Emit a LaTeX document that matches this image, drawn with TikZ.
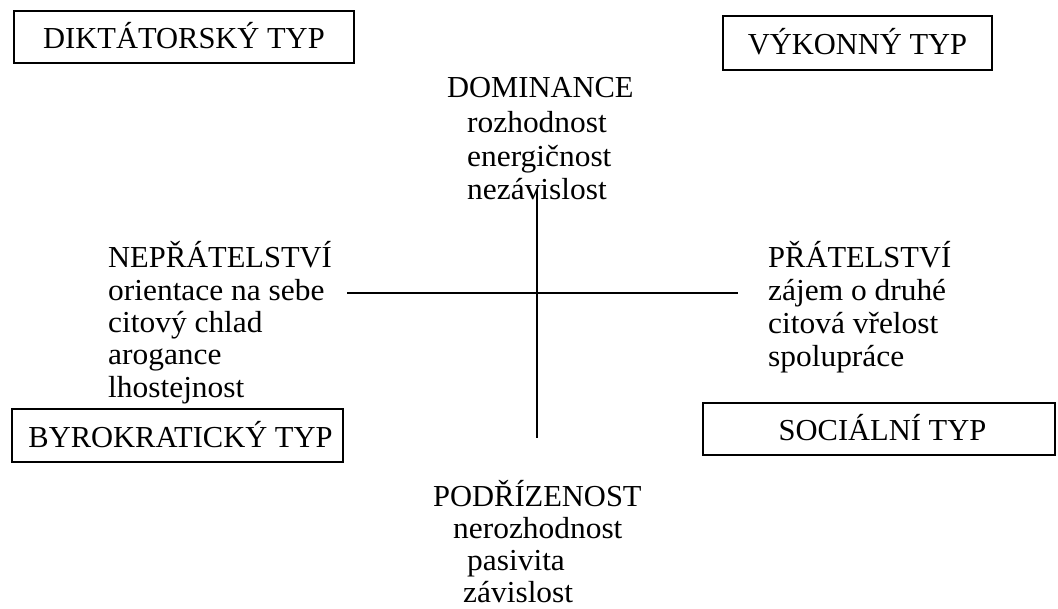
\documentclass[tikz,border=0pt]{standalone}
\usepackage{fontspec}
\setmainfont{Liberation Serif}
\newfontfamily\lowfont{Liberation Serif}[FakeStretch=1.03]
\begin{document}
\begin{tikzpicture}[x=1pt,y=-1pt,
  typbox/.style={draw,line width=1.6pt,inner sep=0pt,font=\fontsize{30.5}{35}\selectfont,text height=24pt,text depth=0pt},
  lbl/.style={anchor=base west,inner sep=0pt,font=\fontsize{30.5}{35}\selectfont},
  low/.style={lbl,font=\fontsize{30.5}{35}\lowfont},
  axis/.style={line width=1.8pt}]
\useasboundingbox (0,0) rectangle (1058,609);
% type boxes
\node[typbox,minimum width=340pt,minimum height=52pt] (dikt) at (184,37) {DIKTÁTORSKÝ TYP};
\node[typbox,minimum width=269pt,minimum height=54pt] (vyk) at (857.5,43) {VÝKONNÝ TYP};
\node[typbox,minimum width=331pt,minimum height=53pt] (byro) at (177.5,435.5) {\hspace*{6pt}BYROKRATICKÝ TYP};
\node[typbox,minimum width=352pt,minimum height=52pt] (soc) at (879,429) {\hspace*{7pt}SOCIÁLNÍ TYP};
% top block
\node[lbl] (dom) at (447,98) {DOMINANCE};
\node[low] (dom1) at (467,133) {rozhodnost};
\node[low] (dom2) at (467,167) {energičnost};
\node[low] (dom3) at (467,200) {nezávislost};
% left block
\node[lbl] (nep) at (108,268) {NEPŘÁTELSTVÍ};
\node[low] (nep1) at (108,301) {orientace na sebe};
\node[low] (nep2) at (108,333) {citový chlad};
\node[low] (nep3) at (108,365) {arogance};
\node[low] (nep4) at (108,398) {lhostejnost};
% right block
\node[lbl] (pra) at (768,268) {PŘÁTELSTVÍ};
\node[low] (pra1) at (768,301) {zájem o druhé};
\node[low] (pra2) at (768,334) {citová vřelost};
\node[low] (pra3) at (768,367) {spolupráce};
% bottom block
\node[lbl] (pod) at (433,506) {PODŘÍZENOST};
\node[low] (pod1) at (453,538) {nerozhodnost};
\node[low] (pod2) at (467,570) {pasivita};
\node[low] (pod3) at (463,602) {závislost};
% axes
\coordinate (vt) at (537,189);
\coordinate (vb) at (537,438);
\coordinate (hl) at (347,293);
\coordinate (hr) at (738,293);
\draw[axis] (vt) -- (vb);
\draw[axis] (hl) -- (hr);
\end{tikzpicture}
\end{document}
